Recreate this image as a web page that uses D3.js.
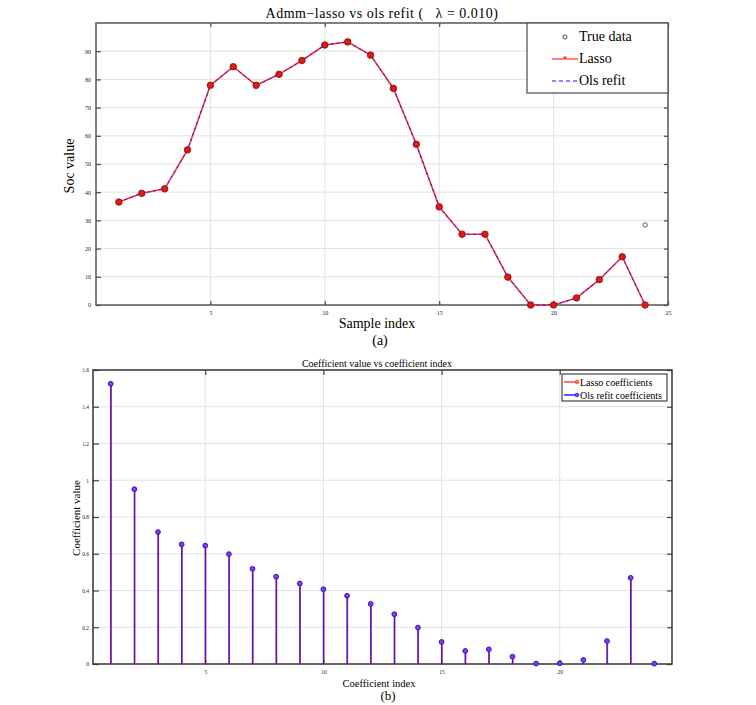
<!DOCTYPE html>
<html>
<head>
<meta charset="utf-8">
<script src="https://cdn.jsdelivr.net/npm/d3@7"></script>
<style>
  body { margin: 0; background: #fff; }
  text { font-family: "Liberation Serif", "DejaVu Serif", serif; }
</style>
</head>
<body>
<div id="chart"></div>
<script>
// ---- data ----
const sampleIndex = d3.range(1, 25);
const trueData = [36.5, 39.6, 41.2, 55.0, 77.9, 84.5, 77.9, 81.8, 86.7, 92.2, 93.3, 88.6,
                  76.8, 57.0, 34.8, 25.1, 25.1, 9.9, 0, 0, 2.5, 9.0, 17.1, 28.4];
const lassoFit = [36.5, 39.6, 41.2, 55.0, 77.9, 84.5, 77.9, 81.8, 86.7, 92.2, 93.3, 88.6,
                  76.8, 57.0, 34.8, 25.1, 25.1, 9.9, 0, 0, 2.5, 9.0, 17.1, 0];
const olsFit = lassoFit.slice();

const coefIndex = d3.range(1, 25);
const lassoCoef = [1.525, 0.951, 0.718, 0.651, 0.644, 0.598, 0.518, 0.475, 0.438, 0.407, 0.371, 0.327,
                   0.271, 0.198, 0.120, 0.071, 0.080, 0.040, 0.002, 0.004, 0.022, 0.125, 0.469, 0.002];
const olsCoef = lassoCoef.slice();

const topXTicks = [5, 10, 15, 20, 25];
const topYTicks = [0, 10, 20, 30, 40, 50, 60, 70, 80, 90];
const botXTicks = [5, 10, 15, 20];
const botYTicks = [0, 0.2, 0.4, 0.6, 0.8, 1, 1.2, 1.4, 1.6];

const W = 756, H = 705;
const svg = d3.select("#chart").append("svg")
    .attr("width", W).attr("height", H);

// ---------- panel (a) ----------
const a = {left: 96, top: 23, right: 668, bottom: 305};
const xA = d3.scaleLinear().domain([0, 25]).range([a.left, a.right]);
const yA = d3.scaleLinear().domain([0, 100]).range([a.bottom, a.top]);

const gA = svg.append("g");

// grid
gA.append("g").selectAll("line").data(topYTicks.filter(d => d > 0)).join("line")
    .attr("x1", a.left).attr("x2", a.right)
    .attr("y1", d => yA(d)).attr("y2", d => yA(d))
    .attr("stroke", "#e3e3e3").attr("stroke-width", 1);
gA.append("g").selectAll("line").data(topXTicks.filter(d => d < 25)).join("line")
    .attr("y1", a.top).attr("y2", a.bottom)
    .attr("x1", d => xA(d)).attr("x2", d => xA(d))
    .attr("stroke", "#e3e3e3").attr("stroke-width", 1);

// axes (ticks pointing inward)
gA.append("g").attr("transform", `translate(0,${a.bottom})`)
    .call(d3.axisBottom(xA).tickValues(topXTicks).tickSize(-4).tickPadding(6))
    .call(g => g.select(".domain").remove());
gA.append("g").attr("transform", `translate(${a.left},0)`)
    .call(d3.axisLeft(yA).tickValues(topYTicks).tickSize(-5).tickPadding(5))
    .call(g => g.select(".domain").remove());
gA.append("g").attr("transform", `translate(${a.right},0)`)
    .call(d3.axisRight(yA).tickValues(topYTicks).tickSize(-4).tickFormat(""))
    .call(g => g.select(".domain").remove());
gA.append("g").attr("transform", `translate(0,${a.top})`)
    .call(d3.axisTop(xA).tickValues(topXTicks).tickSize(-4).tickFormat(""))
    .call(g => g.select(".domain").remove());
gA.selectAll(".tick line").attr("stroke", "#555").attr("stroke-width", 1.3);
gA.selectAll(".tick text").attr("font-size", 6).attr("font-family", "DejaVu Sans").attr("fill", "#222");

gA.append("rect")
    .attr("x", a.left).attr("y", a.top)
    .attr("width", a.right - a.left).attr("height", a.bottom - a.top)
    .attr("fill", "none").attr("stroke", "#555").attr("stroke-width", 1.5);

// lines
const lineA = d3.line().x((d, i) => xA(sampleIndex[i])).y(d => yA(d));
gA.append("path").datum(lassoFit).attr("d", lineA)
    .attr("fill", "none").attr("stroke", "#ff3030").attr("stroke-width", 1.6);
gA.append("path").datum(olsFit).attr("d", lineA)
    .attr("fill", "none").attr("stroke", "#2020ff").attr("stroke-width", 1)
    .attr("stroke-dasharray", "3,3");

// markers
gA.append("g").selectAll("circle").data(lassoFit).join("circle")
    .attr("cx", (d, i) => xA(sampleIndex[i])).attr("cy", d => yA(d))
    .attr("r", 3.3).attr("fill", "#f51515").attr("stroke", "#7a1a1a").attr("stroke-width", 0.8);
gA.append("g").selectAll("circle").data(trueData).join("circle")
    .attr("cx", (d, i) => xA(sampleIndex[i])).attr("cy", d => yA(d))
    .attr("r", 2.2).attr("fill", "none").attr("stroke", "#333").attr("stroke-width", 0.8)
    .attr("opacity", (d, i) => d === lassoFit[i] ? 0.35 : 1);

// title & labels
svg.append("text").attr("x", 382).attr("y", 18).attr("text-anchor", "middle")
    .attr("font-size", 14).attr("letter-spacing", 0.5)
    .text("Admm\u2212lasso vs ols refit (   \u03bb = 0.010)")
    .attr("xml:space", "preserve").style("white-space", "pre");
svg.append("text").attr("x", 377).attr("y", 328).attr("text-anchor", "middle")
    .attr("font-size", 14).text("Sample index");
svg.append("text").attr("transform", `translate(74,166) rotate(-90)`).attr("text-anchor", "middle")
    .attr("font-size", 14).text("Soc value");
svg.append("text").attr("x", 380).attr("y", 345).attr("text-anchor", "middle")
    .attr("font-size", 14).text("(a)");

// legend (a)
const lgA = svg.append("g");
lgA.append("rect").attr("x", 527).attr("y", 23).attr("width", 141).attr("height", 70)
    .attr("fill", "#fff").attr("stroke", "#555").attr("stroke-width", 1.3);
lgA.append("circle").attr("cx", 565).attr("cy", 37).attr("r", 2).attr("fill", "none")
    .attr("stroke", "#333").attr("stroke-width", 0.9);
lgA.append("line").attr("x1", 552).attr("x2", 578).attr("y1", 59).attr("y2", 59)
    .attr("stroke", "#ff6060").attr("stroke-width", 1.6);
lgA.append("text").attr("x", 565).attr("y", 62).attr("text-anchor", "middle")
    .attr("font-size", 9).attr("fill", "#e00000").attr("font-family", "DejaVu Sans").text("*");
lgA.append("line").attr("x1", 552).attr("x2", 578).attr("y1", 81).attr("y2", 81)
    .attr("stroke", "#6060ff").attr("stroke-width", 1.6).attr("stroke-dasharray", "4,3");
[["True data", 41], ["Lasso", 63], ["Ols refit", 85]].forEach(([t, y]) => {
  lgA.append("text").attr("x", 579).attr("y", y).attr("font-size", 14).text(t);
});

// ---------- panel (b) ----------
const b = {left: 93, top: 370, right: 672, bottom: 664};
const xB = d3.scaleLinear().domain([0.25, 24.75]).range([b.left, b.right]);
const yB = d3.scaleLinear().domain([0, 1.6]).range([b.bottom, b.top]);

const gB = svg.append("g");

gB.append("g").selectAll("line").data(botYTicks.filter(d => d > 0 && d < 1.6)).join("line")
    .attr("x1", b.left).attr("x2", b.right)
    .attr("y1", d => yB(d)).attr("y2", d => yB(d))
    .attr("stroke", "#e3e3e3").attr("stroke-width", 1);
gB.append("g").selectAll("line").data(botXTicks).join("line")
    .attr("y1", b.top).attr("y2", b.bottom)
    .attr("x1", d => xB(d)).attr("x2", d => xB(d))
    .attr("stroke", "#e3e3e3").attr("stroke-width", 1);

gB.append("g").attr("transform", `translate(0,${b.bottom})`)
    .call(d3.axisBottom(xB).tickValues(botXTicks).tickSize(-4).tickPadding(6))
    .call(g => g.select(".domain").remove());
gB.append("g").attr("transform", `translate(${b.left},0)`)
    .call(d3.axisLeft(yB).tickValues(botYTicks).tickSize(-6).tickPadding(4).tickFormat(d3.format("~g")))
    .call(g => g.select(".domain").remove());
gB.append("g").attr("transform", `translate(${b.right},0)`)
    .call(d3.axisRight(yB).tickValues(botYTicks).tickSize(-5).tickFormat(""))
    .call(g => g.select(".domain").remove());
gB.append("g").attr("transform", `translate(0,${b.top})`)
    .call(d3.axisTop(xB).tickValues(botXTicks).tickSize(-5).tickFormat(""))
    .call(g => g.select(".domain").remove());
gB.selectAll(".tick line").attr("stroke", "#444").attr("stroke-width", 1.2);
gB.selectAll(".tick text").attr("font-size", 5.5).attr("fill", "#222");

gB.append("rect")
    .attr("x", b.left).attr("y", b.top)
    .attr("width", b.right - b.left).attr("height", b.bottom - b.top)
    .attr("fill", "none").attr("stroke", "#333").attr("stroke-width", 1.5);

// stems
gB.append("g").selectAll("line").data(lassoCoef).join("line")
    .attr("x1", (d, i) => xB(coefIndex[i]) + 0.4).attr("x2", (d, i) => xB(coefIndex[i]) + 0.4)
    .attr("y1", yB(0)).attr("y2", d => yB(d))
    .attr("stroke", "#ff3030").attr("stroke-width", 1.5);
gB.append("g").selectAll("line").data(olsCoef).join("line")
    .attr("x1", (d, i) => xB(coefIndex[i])).attr("x2", (d, i) => xB(coefIndex[i]))
    .attr("y1", yB(0)).attr("y2", d => yB(d))
    .attr("stroke", "#1010ff").attr("stroke-width", 1.3).attr("opacity", 0.85);
gB.append("g").selectAll("circle").data(olsCoef).join("circle")
    .attr("cx", (d, i) => xB(coefIndex[i])).attr("cy", d => yB(d))
    .attr("r", 2.4).attr("fill", "#8a3fd0").attr("stroke", "#2a10e0").attr("stroke-width", 1);

svg.append("text").attr("x", 377).attr("y", 367).attr("text-anchor", "middle")
    .attr("font-size", 10).text("Coefficient value vs coefficient index");
svg.append("text").attr("x", 379).attr("y", 687).attr("text-anchor", "middle")
    .attr("font-size", 10.5).text("Coefficient index");
svg.append("text").attr("transform", `translate(80,518) rotate(-90)`).attr("text-anchor", "middle")
    .attr("font-size", 11).text("Coefficient value");
svg.append("text").attr("x", 388).attr("y", 700).attr("text-anchor", "middle")
    .attr("font-size", 13).text("(b)");

// legend (b)
const lgB = svg.append("g");
lgB.append("rect").attr("x", 562).attr("y", 374).attr("width", 105).attr("height", 27)
    .attr("fill", "#fff").attr("stroke", "#444").attr("stroke-width", 1.2);
[["Lasso coefficients", 382, "#ff4040"], ["Ols refit coefficients", 395, "#2020ff"]].forEach(([t, y, c]) => {
  lgB.append("line").attr("x1", 564).attr("x2", 578).attr("y1", y).attr("y2", y)
      .attr("stroke", c).attr("stroke-width", 1.5);
  lgB.append("circle").attr("cx", 577).attr("cy", y).attr("r", 1.8)
      .attr("fill", "none").attr("stroke", c).attr("stroke-width", 1);
  lgB.append("text").attr("x", 580).attr("y", y + 3.5).attr("font-size", 10).text(t);
});
</script>
</body>
</html>
